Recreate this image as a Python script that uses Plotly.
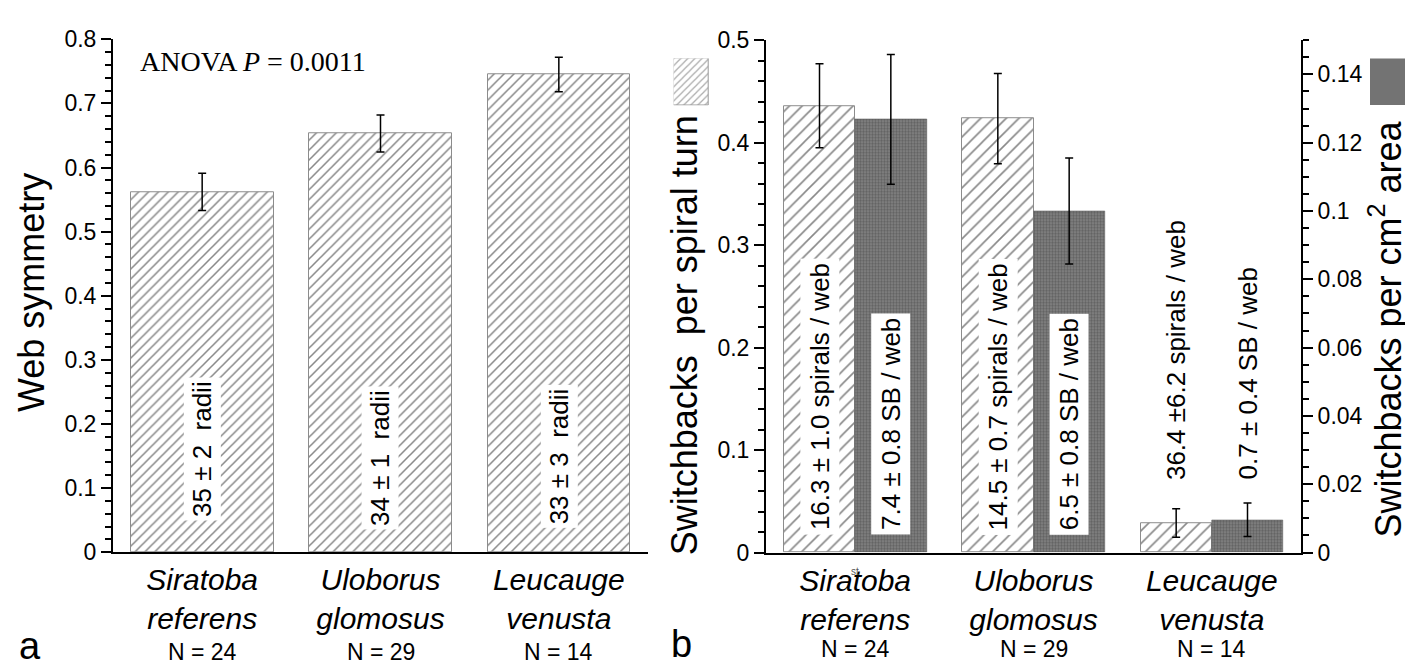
import plotly.graph_objects as go

# ---------------- data ----------------
species = ["Siratoba referens", "Uloborus glomosus", "Leucauge venusta"]
n_webs = [24, 29, 14]

# panel a
symmetry = [0.562, 0.653, 0.745]
symmetry_err = [0.029, 0.029, 0.027]
radii_labels = ["35 ± 2\u00a0\u00a0radii", "34 ± 1\u00a0\u00a0radii", "33 ± 3\u00a0\u00a0radii"]

# panel b
sb_per_turn = [0.436, 0.4235, 0.0288]
sb_per_turn_err = [0.041, 0.044, 0.014]
sb_per_area = [0.1268, 0.100, 0.0096]
sb_per_area_err = [0.019, 0.0155, 0.0049]
spiral_labels = ["16.3 ± 1.0 spirals / web", "14.5 ± 0.7 spirals / web", "36.4 ±6.2 spirals / web"]
sb_labels = ["7.4 ± 0.8 SB / web", "6.5 ± 0.8 SB / web", "0.7 ± 0.4 SB / web"]

W, H = 1413, 670
SANS = "Liberation Sans, Arial, Helvetica, sans-serif"
SERIF = "Liberation Serif, Times New Roman, serif"


def px(x):
    return x / W


def py(y):
    return 1 - y / H


xs = list(range(len(species)))
ticktext = ["<i>" + s.split(" ")[0] + "</i><br><i>" + s.split(" ")[1] + "</i>" for s in species]

hatch = dict(color="white", line=dict(color="#8c8c8c", width=1),
             pattern=dict(shape="/", fgcolor="#111111", bgcolor="white", size=7, solidity=0.22))
hatch_b = dict(color="white", line=dict(color="#8c8c8c", width=1),
               pattern=dict(shape="/", fgcolor="#111111", bgcolor="white", size=9, solidity=0.18))
dark = dict(color="#6a6a6a", line=dict(color="#5a5a5a", width=0.5),
            pattern=dict(shape=".", fgcolor="#404040", bgcolor="#858585", size=3, solidity=0.5))
err = dict(type="data", color="black", thickness=1.5, width=4)

fig = go.Figure()

# panel a bars
fig.add_trace(go.Bar(x=xs, y=symmetry, width=0.8, marker=hatch,
                     error_y=dict(array=symmetry_err, **err),
                     xaxis="x", yaxis="y", showlegend=False))

# panel b bars
fig.add_trace(go.Bar(x=xs, y=sb_per_turn, width=0.4, offset=-0.4, marker=hatch_b,
                     error_y=dict(array=sb_per_turn_err, **err),
                     xaxis="x2", yaxis="y2", showlegend=False))
fig.add_trace(go.Bar(x=xs, y=sb_per_area, width=0.4, offset=0.0, marker=dark,
                     error_y=dict(array=sb_per_area_err, **err),
                     xaxis="x2", yaxis="y3", showlegend=False))

# legend swatches
fig.add_trace(go.Bar(x=[0], y=[1], width=1,
                     marker=dict(color="white", line=dict(color="#999999", width=1),
                                 pattern=dict(shape="/", fgcolor="#555555", bgcolor="white",
                                              size=5, solidity=0.25)),
                     xaxis="x3", yaxis="y4", showlegend=False, hoverinfo="skip"))
fig.add_trace(go.Bar(x=[0], y=[1], width=1,
                     marker=dict(color="#737373", line=dict(color="#737373", width=0)),
                     xaxis="x4", yaxis="y5", showlegend=False, hoverinfo="skip"))

tickfont = dict(family=SANS, size=23, color="black")
axis_common = dict(showgrid=False, zeroline=False, showline=True, linecolor="black",
                   linewidth=2, ticks="outside", tickwidth=2, ticklen=10,
                   tickcolor="black", tickfont=tickfont)
xcommon = dict(showgrid=False, zeroline=False, showline=True, linecolor="black", linewidth=2,
               ticks="", tickvals=xs, ticktext=ticktext, range=[-0.5, 2.5],
               tickfont=dict(family=SANS, size=30, color="black"))

fig.update_layout(
    width=W, height=H,
    margin=dict(l=0, r=0, t=0, b=0),
    paper_bgcolor="white", plot_bgcolor="rgba(0,0,0,0)",
    bargap=0,
    xaxis=dict(domain=[px(105), px(640)], anchor="y", **xcommon),
    yaxis=dict(domain=[py(552.7), py(19)], anchor="x", range=[0, 0.8], dtick=0.1,
               minor=dict(dtick=0.02, ticks="outside", ticklen=6, tickwidth=1.5, tickcolor="black"),
               **axis_common),
    xaxis2=dict(domain=[px(758), px(1293)], anchor="y2", **xcommon),
    yaxis2=dict(domain=[py(553), py(20)], anchor="x2", range=[0, 0.5], dtick=0.1,
                minor=dict(dtick=0.02, ticks="outside", ticklen=6, tickwidth=1.5, tickcolor="black"),
                **axis_common),
    yaxis3=dict(overlaying="y2", anchor="x2", side="right", range=[0, 0.15], dtick=0.02,
                minor=dict(dtick=0.005, ticks="outside", ticklen=6, tickwidth=1.5, tickcolor="black"),
                **axis_common),
    xaxis3=dict(domain=[px(665.7), px(701)], anchor="y4", range=[-0.5, 0.5], visible=False),
    yaxis4=dict(domain=[py(88), py(39)], anchor="x3", range=[0, 1], visible=False),
    xaxis4=dict(domain=[px(1362), px(1397.7)], anchor="y5", range=[-0.5, 0.5], visible=False),
    yaxis5=dict(domain=[py(88), py(39)], anchor="x4", range=[0, 1], visible=False),
)

ann = []
# axis titles
ann.append(dict(text="Web symmetry", x=px(23), y=py(283), xref="paper", yref="paper",
                textangle=-90, showarrow=False, xanchor="center", yanchor="middle",
                font=dict(family=SANS, size=36, color="black")))
ann.append(dict(text="Switchbacks\u00a0\u00a0per spiral turn", x=px(676), y=py(327), xref="paper",
                yref="paper", textangle=-90, showarrow=False, xanchor="center", yanchor="middle",
                font=dict(family=SANS, size=36, color="black")))
ann.append(dict(text="Switchbacks per cm<sup>2</sup> area", x=px(1377), y=py(321), xref="paper",
                yref="paper", textangle=-90, showarrow=False, xanchor="center", yanchor="middle",
                font=dict(family=SANS, size=36, color="black")))
# ANOVA
ann.append(dict(text="ANOVA <i>P</i> = 0.0011", x=px(130), y=py(42), xref="paper", yref="paper",
                showarrow=False, xanchor="left", yanchor="middle",
                font=dict(family=SERIF, size=28, color="black")))
# panel letters
ann.append(dict(text="a", x=px(22), y=py(650), xref="paper", yref="paper", showarrow=False,
                xanchor="center", yanchor="middle", font=dict(family=SANS, size=38, color="black")))
ann.append(dict(text="b", x=px(673), y=py(648), xref="paper", yref="paper", showarrow=False,
                xanchor="center", yanchor="middle", font=dict(family=SANS, size=38, color="black")))
# N labels
for i, n in enumerate(n_webs):
    ann.append(dict(text=f"N = {n}", x=i, xref="x", y=py(656), yref="paper", showarrow=False,
                    xanchor="center", yanchor="middle", font=dict(family=SANS, size=23, color="black")))
    ann.append(dict(text=f"N = {n}", x=i, xref="x2", y=py(653), yref="paper", showarrow=False,
                    xanchor="center", yanchor="middle", font=dict(family=SANS, size=23, color="black")))

labfont = dict(family=SANS, size=26, color="black")
# panel a bar labels
for i, (t, yb) in enumerate(zip(radii_labels, [0.049, 0.034, 0.037])):
    ann.append(dict(text=t, x=i, xref="x", y=yb, yref="y", textangle=-90, showarrow=False,
                    xanchor="center", yanchor="bottom", bgcolor="white", borderpad=3, font=labfont))
# panel b bar labels
for i in range(len(species)):
    boxed = i < 2
    yb = 0.017 if boxed else 0.066
    ann.append(dict(text=spiral_labels[i], x=i - 0.2, xref="x2", y=yb, yref="y2", textangle=-90,
                    showarrow=False, xanchor="center", yanchor="bottom",
                    bgcolor="white" if boxed else "rgba(0,0,0,0)", borderpad=4, font=labfont))
    ann.append(dict(text=sb_labels[i], x=i + 0.2, xref="x2", y=yb, yref="y2", textangle=-90,
                    showarrow=False, xanchor="center", yanchor="bottom",
                    bgcolor="white" if boxed else "rgba(0,0,0,0)", borderpad=4, font=labfont))
# small stray mark in the original
ann.append(dict(text="st", x=0, xref="x2", y=py(573), yref="paper", showarrow=False,
                xanchor="center", yanchor="middle", font=dict(family=SANS, size=10, color="#555555")))

fig.update_layout(annotations=ann)
fig.write_html("out.html")
